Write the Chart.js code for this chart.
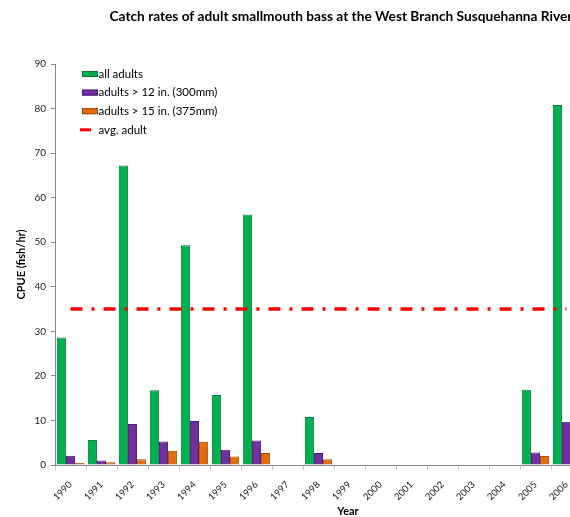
<!DOCTYPE html>
<html>
<head>
<meta charset="utf-8">
<script src="https://cdn.jsdelivr.net/npm/chart.js@4"></script>
<style>
  html, body { margin: 0; padding: 0; overflow: hidden; background: #fff; }
  canvas { display: block; }
</style>
</head>
<body>
<canvas id="chart" width="600" height="517"></canvas>
<script>
// Data
const years = ["1990", "1991", "1992", "1993", "1994", "1995", "1996", "1997", "1998",
  "1999", "2000", "2001", "2002", "2003", "2004", "2005", "2006"];
const allAdults = [28.6, 5.6, 67.2, 16.8, 49.3, 15.7, 56.2, null, 10.8, null, null, null, null, null, null, 16.9, 80.8];
const adults12in = [2.1, 1.0, 9.2, 5.3, 9.9, 3.4, 5.5, null, 2.7, null, null, null, null, null, null, 2.8, 9.7];
const adults15in = [0.5, 0.6, 1.3, 3.2, 5.2, 1.9, 2.7, null, 1.3, null, null, null, null, null, null, 2.0, 2.5];
const avgAdult = [35, 35, 35, 35, 35, 35, 35, 35, 35, 35, 35, 35, 35, 35, 35, 35, 35];

const chartTitle = "Catch rates of adult smallmouth bass at the West Branch Susquehanna River";

Chart.defaults.font.family = "Lato, 'Open Sans', sans-serif";
Chart.defaults.color = "#222";

// Draws title, x axis title and the in-plot legend
const overlay = {
  id: "overlay",
  afterDraw(chart) {
    const ctx = chart.ctx;
    ctx.save();
    ctx.fillStyle = "#000";
    ctx.textBaseline = "middle";
    ctx.textAlign = "center";
    ctx.font = "bold 13.7px Lato";
    ctx.fillText(chartTitle, 341, 17);
    ctx.font = "bold 11px Lato";
    ctx.fillText("Year", 348, 511);

    ctx.font = "11.5px Lato";
    ctx.textAlign = "left";
    chart.data.datasets.forEach((ds, i) => {
      const y = 74 + i * 18.6;
      if (ds.type === "line") {
        ctx.strokeStyle = ds.borderColor;
        ctx.lineWidth = 3;
        ctx.beginPath();
        ctx.moveTo(80, y);
        ctx.lineTo(91, y);
        ctx.stroke();
      } else {
        ctx.fillStyle = ds.backgroundColor;
        ctx.fillRect(82, y - 3, 16, 6);
        ctx.strokeStyle = ds.borderColor;
        ctx.lineWidth = 1;
        ctx.strokeRect(82.5, y - 2.5, 15, 5);
      }
      ctx.fillStyle = "#000";
      ctx.fillText(ds.label, 98.5, y);
    });
    ctx.restore();
  }
};

new Chart(document.getElementById("chart"), {
  type: "bar",
  plugins: [overlay],
  data: {
    labels: years,
    datasets: [
      { label: "all adults", data: allAdults, backgroundColor: "#00B050", borderColor: "#00803A", borderWidth: 1, order: 1 },
      { label: "adults > 12 in. (300mm)", data: adults12in, backgroundColor: "#7030A0", borderColor: "#4A1F6E", borderWidth: 1, order: 1 },
      { label: "adults > 15 in. (375mm)", data: adults15in, backgroundColor: "#E46C0A", borderColor: "#9A4A08", borderWidth: 1, order: 1 },
      { type: "line", label: "avg. adult", data: avgAdult, borderColor: "#FF0000", borderWidth: 3.5,
        borderDash: [12, 9, 3, 9], pointRadius: 0, fill: false, order: 0 }
    ]
  },
  options: {
    responsive: false,
    animation: false,
    layout: { padding: { top: 64, right: 18, left: 0, bottom: 0 } },
    datasets: { bar: { categoryPercentage: 0.88, barPercentage: 1 } },
    plugins: {
      legend: { display: false },
      tooltip: { enabled: false },
      title: { display: false }
    },
    scales: {
      x: {
        afterFit: (s) => { s.height = 52; },
        grid: { drawOnChartArea: false, color: "#c8c8c8", tickLength: 5, offset: true },
        border: { color: "#888" },
        ticks: { autoSkip: false, maxRotation: 45, minRotation: 45, font: { size: 9.5 }, padding: 9 }
      },
      y: {
        min: 0,
        max: 90,
        afterFit: (s) => { s.width = 55; },
        grid: { drawOnChartArea: false, color: "#888", tickLength: 4 },
        border: { color: "#888" },
        ticks: { stepSize: 10, font: { size: 10 }, padding: 5 },
        title: { display: true, text: "CPUE (fish/hr)", font: { size: 11, weight: "bold" }, color: "#000", padding: { top: 15 } }
      }
    }
  }
});
</script>
</body>
</html>
